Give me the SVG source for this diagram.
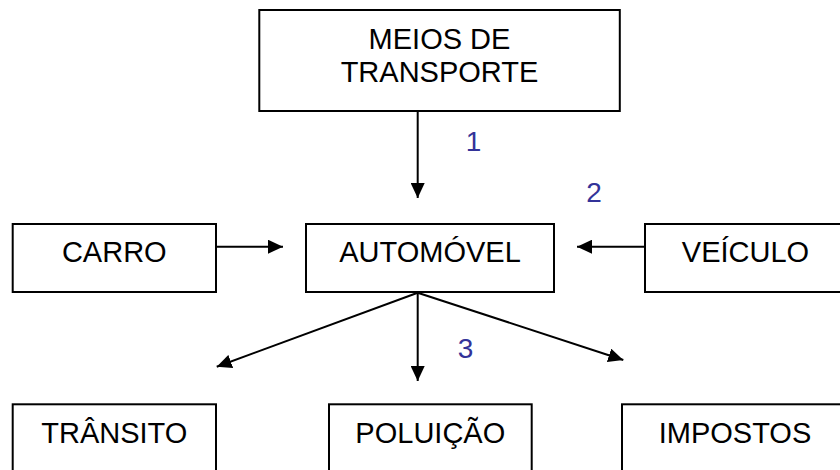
<svg xmlns="http://www.w3.org/2000/svg" width="840" height="470" viewBox="0 0 840 470">
<style>
.box{fill:#fff;stroke:#000;stroke-width:2}
.t{font-family:"Liberation Sans",Arial,sans-serif;font-size:29px;fill:#000;text-anchor:middle}
.n{font-family:"Liberation Sans",Arial,sans-serif;font-size:28px;fill:#333399;text-anchor:middle}
.c{stroke:#000;stroke-width:2;fill:none;marker-end:url(#ah)}
</style>
<defs>
<marker id="ah" viewBox="0 0 15 14" refX="15" refY="7" markerWidth="15" markerHeight="14" markerUnits="userSpaceOnUse" orient="auto">
<path d="M0,0 L15,7 L0,14 z" fill="#000"/>
</marker>
</defs>
<rect width="840" height="470" fill="#fff"/>
<g id="connectors">
<line class="c" x1="417.7" y1="111" x2="417.7" y2="198"/>
<line class="c" x1="216" y1="246.7" x2="283" y2="246.7"/>
<line class="c" x1="645" y1="246.7" x2="577" y2="246.7"/>
<line class="c" x1="417.7" y1="292.7" x2="216.7" y2="366.7"/>
<line class="c" x1="417.7" y1="292.7" x2="417.7" y2="381"/>
<line class="c" x1="417.7" y1="292.7" x2="623.3" y2="360"/>
</g>
<g id="labels">
<text class="n" x="473.5" y="151">1</text>
<text class="n" x="594" y="202.3">2</text>
<text class="n" x="465.5" y="358.3">3</text>
</g>
<g id="meios">
<rect class="box" x="259.3" y="10" width="360.5" height="101"/>
<text class="t" x="439.5" y="49.3">MEIOS DE</text>
<text class="t" x="439.5" y="81.7">TRANSPORTE</text>
</g>
<g id="carro">
<rect class="box" x="12.7" y="224" width="203.3" height="68"/>
<text class="t" x="114.3" y="261.7">CARRO</text>
</g>
<g id="automovel">
<rect class="box" x="306" y="224" width="248" height="68"/>
<text class="t" x="430" y="261.7">AUTOMÓVEL</text>
</g>
<g id="veiculo">
<rect class="box" x="645" y="224" width="202" height="68"/>
<text class="t" x="745.5" y="261.7">VEÍCULO</text>
</g>
<g id="transito">
<rect class="box" x="12.7" y="404.3" width="203.3" height="80"/>
<text class="t" x="114.3" y="443.3">TRÂNSITO</text>
</g>
<g id="poluicao">
<rect class="box" x="329" y="404.3" width="202.7" height="80"/>
<text class="t" x="430.3" y="443.3">POLUIÇÃO</text>
</g>
<g id="impostos">
<rect class="box" x="622" y="404.3" width="226" height="80"/>
<text class="t" x="735" y="443.3">IMPOSTOS</text>
</g>
</svg>
